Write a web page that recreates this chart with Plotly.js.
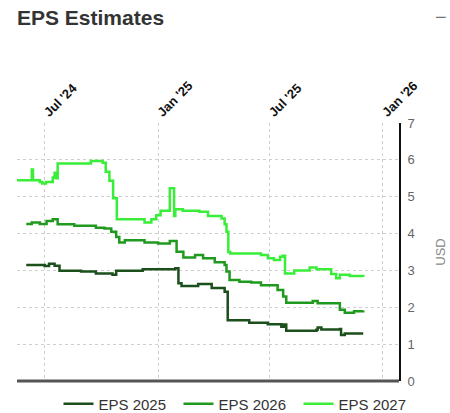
<!DOCTYPE html>
<html>
<head>
<meta charset="utf-8">
<script src="https://cdn.plot.ly/plotly-3.0.1.min.js"></script>
<style>
  html, body { margin: 0; padding: 0; background: #fff; }
  #chart { width: 450px; height: 413px; }
</style>
</head>
<body>
<div id="chart"></div>
<script>
const seriesNames = ['EPS 2025', 'EPS 2026', 'EPS 2027'];
const seriesColors = ['#1b4f1b', '#1f9a1f', '#38ee38'];

const eps2025Dates = ['2024-06-01','2024-07-01','2024-07-08','2024-07-17','2024-07-25','2024-08-29','2024-09-22','2024-10-19','2024-10-25','2024-12-07','2025-01-29','2025-02-03','2025-02-08','2025-03-07','2025-03-29','2025-04-19','2025-04-24','2025-05-29','2025-06-28','2025-07-20','2025-07-24','2025-07-28','2025-09-15','2025-09-17','2025-09-23','2025-10-23','2025-10-25','2025-10-31','2025-11-30'];
const eps2025Values = [3.15,3.12,3.18,3.13,2.99,2.97,2.92,2.88,2.99,3.03,3.06,2.65,2.58,2.63,2.52,2.42,1.65,1.58,1.54,1.47,1.53,1.36,1.39,1.45,1.40,1.41,1.25,1.29,1.29];

const eps2026Dates = ['2024-06-01','2024-06-10','2024-06-23','2024-07-04','2024-07-14','2024-07-22','2024-08-18','2024-09-22','2024-10-06','2024-10-17','2024-10-25','2024-10-30','2024-11-08','2024-12-10','2025-01-01','2025-01-20','2025-01-31','2025-02-11','2025-03-02','2025-03-15','2025-04-03','2025-04-19','2025-04-22','2025-04-27','2025-05-13','2025-06-01','2025-06-17','2025-07-14','2025-07-23','2025-07-28','2025-08-21','2025-09-09','2025-09-17','2025-10-17','2025-10-23','2025-10-31','2025-11-15','2025-11-30'];
const eps2026Values = [4.26,4.30,4.26,4.34,4.39,4.25,4.21,4.16,4.14,4.05,3.91,3.76,3.82,3.76,3.73,3.80,3.51,3.35,3.42,3.33,3.22,3.15,2.97,2.74,2.69,2.67,2.60,2.47,2.29,2.12,2.12,2.17,2.11,2.11,1.93,1.85,1.89,1.91];

const eps2027Dates = ['2024-05-17','2024-06-10','2024-06-12','2024-06-23','2024-06-27','2024-07-03','2024-07-14','2024-07-17','2024-07-19','2024-07-22','2024-09-14','2024-10-03','2024-10-08','2024-10-14','2024-10-20','2024-10-26','2024-12-10','2024-12-21','2024-12-29','2025-01-05','2025-01-20','2025-01-27','2025-01-29','2025-02-10','2025-03-09','2025-03-23','2025-04-14','2025-04-19','2025-04-22','2025-04-25','2025-04-28','2025-06-17','2025-06-28','2025-07-08','2025-07-18','2025-07-22','2025-07-26','2025-08-10','2025-09-04','2025-09-15','2025-10-09','2025-10-17','2025-10-23','2025-11-08','2025-11-30'];
const eps2027Values = [5.45,5.74,5.45,5.40,5.36,5.40,5.52,5.65,5.50,5.90,5.97,5.92,5.68,5.43,4.96,4.39,4.30,4.39,4.50,4.62,5.23,4.48,4.66,4.62,4.59,4.48,4.41,4.25,4.05,3.50,3.46,3.42,3.33,3.28,3.37,3.40,2.92,3.00,3.08,3.03,2.90,2.79,2.88,2.85,2.82];

const xRange = ['2024-05-17', '2026-01-27'];
const xTickVals = ['2024-07-01', '2025-01-01', '2025-07-01', '2026-01-01'];
const xTickText = ["Jul '24", "Jan '25", "Jul '25", "Jan '26"];
const yTickVals = [0, 1, 2, 3, 4, 5, 6, 7];

const allDates = [eps2025Dates, eps2026Dates, eps2027Dates];
const allValues = [eps2025Values, eps2026Values, eps2027Values];

const traces = seriesNames.map((name, i) => ({
  type: 'scatter',
  mode: 'lines',
  name: name,
  x: allDates[i],
  y: allValues[i],
  line: { color: seriesColors[i], width: 2.5, shape: 'hv' },
  hoverinfo: 'x+y+name'
}));

const layout = {
  width: 450,
  height: 413,
  margin: { l: 17, r: 51, t: 123, b: 32, autoexpand: false },
  paper_bgcolor: '#fff',
  plot_bgcolor: '#fff',
  font: { family: 'Liberation Sans, Arial, sans-serif', color: '#333' },
  title: {
    text: '<b>EPS Estimates</b>',
    font: { size: 21, color: '#333' },
    x: 17 / 450, xref: 'container', xanchor: 'left',
    y: 1 - 10 / 413, yref: 'container', yanchor: 'top'
  },
  showlegend: true,
  legend: {
    orientation: 'h',
    xref: 'container', x: 0.53, xanchor: 'center',
    yref: 'container', y: 9 / 413, yanchor: 'middle',
    bgcolor: 'rgba(0,0,0,0)',
    font: { size: 15, color: '#333' },
    entrywidth: 75, entrywidthmode: 'pixels',
    itemwidth: 30
  },
  xaxis: {
    type: 'date',
    side: 'top',
    range: xRange,
    tickmode: 'array',
    tickvals: xTickVals,
    ticktext: xTickText,
    tickangle: -45,
    tickfont: { size: 13, color: '#111', family: 'Liberation Sans, Arial, sans-serif', weight: 'bold' },
    showgrid: true,
    gridcolor: '#cfcfcf',
    griddash: 'dot',
    gridwidth: 1,
    zeroline: false,
    showline: false,
    ticks: '',
    fixedrange: true
  },
  yaxis: {
    side: 'right',
    range: [0, 7],
    tickmode: 'array',
    tickvals: yTickVals,
    tickfont: { size: 13, color: '#666' },
    ticklabelstandoff: 4,
    showgrid: true,
    gridcolor: '#cfcfcf',
    griddash: 'dot',
    gridwidth: 1,
    zeroline: false,
    showline: true,
    linecolor: '#111',
    linewidth: 2,
    ticks: '',
    title: { text: 'USD', font: { size: 13, color: '#888' }, standoff: 22 },
    fixedrange: true
  },
  shapes: [{
    type: 'line', xref: 'paper', yref: 'paper',
    x0: 0, x1: 1, y0: 0, y1: 0,
    line: { color: '#555', width: 3 }
  }],
  annotations: [{
    text: '−', xref: 'paper', yref: 'paper',
    x: 1.11, y: 1.41, xanchor: 'center', yanchor: 'middle',
    showarrow: false, font: { size: 20, color: '#777' }
  }]
};

Plotly.newPlot('chart', traces, layout, { displayModeBar: false, staticPlot: true });
</script>
</body>
</html>
